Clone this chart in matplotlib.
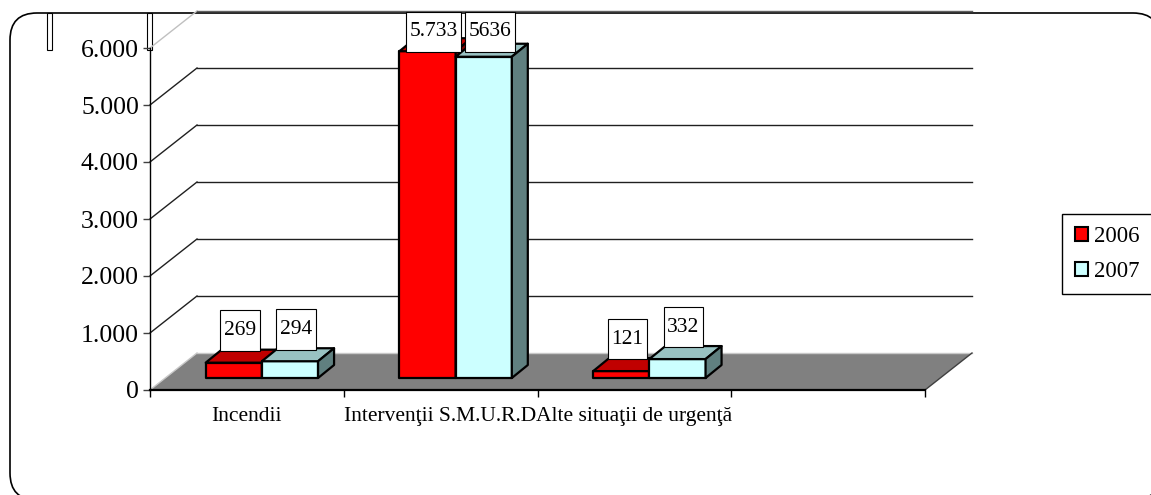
import matplotlib
matplotlib.use('Agg')
import matplotlib.pyplot as plt
from matplotlib.patches import Polygon, Rectangle, FancyBboxPatch, Patch
from matplotlib.path import Path

plt.rcParams['font.family'] = ['Liberation Serif', 'DejaVu Serif']

categories = ['Incendii', 'Intervenţii S.M.U.R.D', 'Alte situaţii de urgenţă', '']
years = ['2006', '2007']
v2006 = [269, 5733, 121]
v2007 = [294, 5636, 332]
lab2006 = ['269', '5.733', '121']
lab2007 = ['294', '5636', '332']
yticks = [0, 1000, 2000, 3000, 4000, 5000, 6000]
yticklabels = ['0', '1.000', '2.000', '3.000', '4.000', '5.000', '6.000']

front_col = ['#FF0000', '#CCFFFF']
top_col = ['#C00000', '#99C2C2']
side_col = ['#800000', '#608080']

W, H = 1151, 495
fig = plt.figure(figsize=(W / 100, H / 100), dpi=100)


def label_box(x0, y0, width, height, mutation_size):
    # taller than wide padding, like the Excel data labels
    px, py = 0.17 * mutation_size, 0.5 * mutation_size
    x0, y0 = x0 - px, y0 - py
    x1, y1 = x0 + width + 2 * px, y0 + height + 2 * py
    return Path([(x0, y0), (x1, y0), (x1, y1), (x0, y1), (x0, y0)], closed=True)


# background: rounded frame, legend frame and the two odd little boxes
bg = fig.add_axes([0, 0, 1, 1])
bg.set_xlim(0, W)
bg.set_ylim(H, 0)
bg.axis('off')
bg.add_patch(FancyBboxPatch((10, 13), 1150, 487, boxstyle='round,pad=0,rounding_size=27',
                            fc='white', ec='black', lw=1.2))
bg.add_patch(Rectangle((1062, 214), 110, 80, fc='white', ec='black', lw=1))
for xx in (47, 147):
    bg.add_patch(Rectangle((xx, 13), 5, 37, fc='white', ec='black', lw=0.8, zorder=5))

# main axes: front plane, pixel 150..925 for 4 categories, value 0 at y=390
ax = fig.add_axes([150 / W, (H - 390) / H, 775 / W, 342 / H])
ax.set_xlim(0, 4)
ax.set_ylim(0, 6000)
ax.patch.set_alpha(0)
PX = 4 / 775.0
PY = 6000 / 342.0
DX, DY = 47 * PX, 37 * PY  # floor depth

# floor
ax.add_patch(Polygon([(0, 0), (4, 0), (4 + DX, DY), (DX, DY)], closed=True,
                     fc='#808080', ec='none', zorder=1, clip_on=False))
ax.plot([DX, 4 + DX], [DY, DY], color='#C8C8C8', lw=1, zorder=1.2, clip_on=False)
ax.plot([0, DX], [0, DY], color='#C8C8C8', lw=1, zorder=1.2, clip_on=False)
ax.plot([4, 4 + DX], [0, DY], color='#404040', lw=1, zorder=1.2, clip_on=False)

# wall gridlines
for v in yticks[1:]:
    c = '#C0C0C0' if v == 6000 else '#202020'
    ax.plot([0, DX], [v, v + DY], color=c, lw=1, zorder=1, clip_on=False)
    c2 = '#606060' if v == 6000 else '#202020'
    ax.plot([DX, 4 + DX], [v + DY, v + DY], color=c2, lw=1, zorder=1, clip_on=False)

# bars
bw = 0.29
g0 = (1 - 2 * bw) / 2
fx, fy = 15 * PX, 12 * PY
bdx, bdy = 16 * PX, 13 * PY
label_cap = (390 - 32) * PY  # labels are kept inside the chart area
for j, (vals, labs) in enumerate([(v2006, lab2006), (v2007, lab2007)]):
    for i, h in enumerate(vals):
        x0 = i + g0 + j * bw + fx
        kw = dict(ec='black', lw=1.6, zorder=3 + i * 0.1 + j * 0.01, clip_on=False, joinstyle='round')
        ax.add_patch(Rectangle((x0, fy), bw, h, fc=front_col[j], **kw))
        ax.add_patch(Polygon([(x0, fy + h), (x0 + bw, fy + h), (x0 + bw + bdx, fy + h + bdy),
                              (x0 + bdx, fy + h + bdy)], closed=True, fc=top_col[j], **kw))
        ax.add_patch(Polygon([(x0 + bw, fy), (x0 + bw + bdx, fy + bdy), (x0 + bw + bdx, fy + h + bdy),
                              (x0 + bw, fy + h)], closed=True, fc=side_col[j], **kw))
        ly = min(fy + h + bdy + 19 * PY, label_cap)
        ax.text(x0 + bw / 2 + bdx / 2 - 2 * PX, ly, labs[i], fontsize=15.5,
                ha='center', va='center', zorder=6, clip_on=False,
                bbox=dict(boxstyle=label_box, fc='white', ec='black', lw=0.8))

# axes lines and ticks
for s in ('top', 'right'):
    ax.spines[s].set_visible(False)
ax.spines['left'].set_linewidth(1)
ax.spines['bottom'].set_linewidth(1.6)
ax.spines['left'].set_zorder(2)
ax.spines['bottom'].set_zorder(2)
ax.set_yticks(yticks)
ax.set_yticklabels(yticklabels, fontsize=18.5)
ax.tick_params(axis='y', length=5, width=1, direction='out', pad=3, color='#404040')
ax.set_xticks([0, 1, 2, 3, 4])
ax.set_xticklabels([])
ax.tick_params(axis='x', which='major', length=5, width=1, direction='out')
ax.set_xticks([0.5, 1.5, 2.5, 3.5], minor=True)
ax.set_xticklabels(categories, minor=True, fontsize=15.5)
ax.tick_params(axis='x', which='minor', length=0, pad=12)

# legend entries; its frame is drawn above and runs off the right edge
handles = [Patch(fc=front_col[k], ec='black', lw=1.5, label=years[k]) for k in range(2)]
leg = fig.legend(handles=handles, loc='center left',
                 bbox_to_anchor=(1062 / W, 1 - 254 / H),
                 frameon=False, prop={'family': 'Liberation Serif', 'size': 16.5},
                 handlelength=0.6, handleheight=0.6, handletextpad=0.25, labelspacing=0.6,
                 borderpad=0.55, borderaxespad=0)

fig.savefig('out.png', dpi=100)
